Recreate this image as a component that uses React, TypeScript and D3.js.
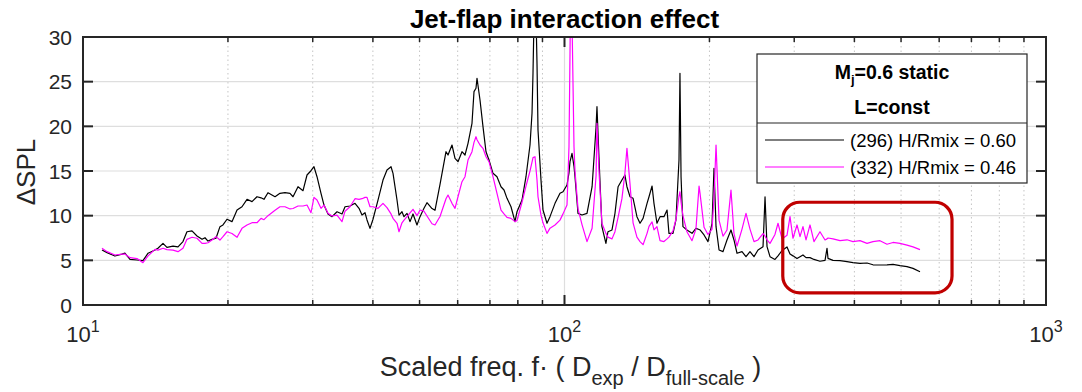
import React from 'react';
import * as d3 from 'd3';

// Scaled frequency (shared grid for both spectra)
const freq = [
  10.95, 11.22, 11.65, 12.05, 12.22, 12.52, 12.95, 13.32, 13.65, 14.11,
  14.31, 14.66, 14.94, 15.38, 15.75, 16.13, 16.44, 16.84, 17.25, 17.67,
  17.92, 18.18, 18.53, 18.89, 19.25, 19.53, 19.91, 20.39, 20.89, 21.39,
  21.91, 22.44, 22.98, 23.43, 23.76, 24.22, 25.05, 25.65, 26.27, 26.91,
  27.3, 27.96, 28.64, 29.19, 29.75, 30.18, 30.62, 31.21, 31.66, 32.27,
  32.9, 33.69, 34.51, 35.01, 35.85, 36.72, 37.43, 37.97, 38.52, 38.89,
  39.45, 40.02, 40.99, 41.98, 42.79, 43.62, 44.04, 44.89, 45.32, 45.97,
  46.42, 47.09, 47.77, 48.46, 49.39, 50.11, 51.07, 51.81, 53.07, 53.83,
  55.14, 56.74, 57.29, 58.39, 59.24, 60.09, 61.25, 62.14, 63.04, 64.25,
  64.87, 65.49, 65.81, 66.76, 67.72, 68.7, 69.69, 71.04, 72.41, 73.81,
  74.88, 75.96, 77.43, 78.92, 79.68, 81.61, 83.18, 84.79, 85.61, 86.02,
  86.84, 87.68, 88.1, 89.37, 90.23, 91.97, 93.3, 95.56, 97.87, 99.29,
  101.2, 102.17, 102.66, 103.16, 103.65, 104.65, 105.15, 106.67, 108.73, 111.36,
  114.1, 116.3, 116.8, 117.9, 119.6, 121.9, 123.1, 125.5, 127.3, 129.2,
  131.6, 133.5, 134.8, 136.8, 138.8, 141.4, 143.5, 145.6, 148.4, 149.8,
  152.0, 153.4, 155.6, 157.9, 160.9, 163.3, 164.8, 168.0, 170.4, 172.9,
  173.7, 174.6, 176.2, 179.6, 184.0, 187.5, 190.3, 191.2, 194.9, 198.6,
  202.5, 204.4, 206.4, 209.4, 213.4, 217.5, 221.7, 224.9, 228.2, 233.7,
  238.2, 242.8, 247.5, 252.3, 258.4, 260.9, 263.4, 267.2, 273.6, 277.6,
  283.0, 289.8, 294.0, 298.2, 304.0, 308.4, 312.8, 317.4, 323.5, 329.7,
  339.3, 347.6, 350.9, 352.6, 361.1, 373.4, 386.1, 397.3, 410.9, 424.9,
  437.2, 452.1, 467.5, 481.1, 497.5, 514.4, 529.4, 547.4,
];

// (296) H/Rmix = 0.60  -- black
const dsplH060 = [
  6.15, 5.86, 5.48, 5.7, 5.8, 5.1, 5.04, 4.96, 5.8, 6.15,
  6.35, 6.9, 6.45, 6.6, 6.5, 7.1, 8.2, 8.3, 7.72, 7.35,
  7.53, 7.16, 7.35, 7.47, 8.77, 8.96, 9.6, 9.33, 10.63, 11.0,
  11.83, 11.57, 12.12, 12.0, 11.83, 12.57, 12.12, 12.5, 12.57, 12.5,
  12.12, 13.24, 12.8, 14.55, 15.03, 15.48, 14.36, 12.5, 11.19, 10.19,
  9.89, 10.44, 10.19, 11.0, 11.08, 11.38, 10.82, 10.07, 10.33, 9.52,
  8.58, 9.6, 11.75, 13.99, 15.11, 15.48, 14.74, 11.75, 10.07, 10.44,
  9.89, 10.26, 9.33, 10.19, 8.96, 9.89, 10.82, 11.45, 10.8, 10.6,
  13.5, 17.16, 16.79, 17.91, 16.42, 16.04, 17.16, 16.79, 18.1, 20.34,
  23.88, 24.26, 25.38, 22.95, 19.96, 17.16, 16.23, 14.74, 14.36, 13.24,
  12.87, 11.94, 11.0, 9.33, 10.44, 11.75, 14.36, 17.91, 21.46, 26.0,
  38.0, 27.0, 19.59, 13.99, 10.63, 9.15, 9.89, 11.38, 12.5, 12.68,
  13.43, 14.8, 16.04, 16.5, 16.98, 15.5, 14.36, 10.26, 10.07, 10.26,
  13.24, 19.96, 22.2, 16.6, 8.77, 6.9, 8.2, 8.4, 10.26, 13.24,
  13.99, 14.55, 13.24, 12.12, 11.94, 9.89, 9.15, 9.7, 11.38, 12.12,
  13.32, 11.38, 9.15, 9.89, 9.89, 10.63, 8.02, 8.02, 9.52, 16.23,
  25.94, 14.36, 8.77, 8.4, 8.02, 8.58, 8.45, 8.4, 7.84, 7.09,
  9.15, 15.3, 8.77, 6.16, 5.97, 7.28, 8.4, 7.28, 5.79, 5.97,
  5.41, 5.97, 5.41, 6.16, 6.53, 12.12, 6.53, 5.41, 5.1, 5.5,
  6.1, 6.5, 5.7, 5.5, 5.2, 5.4, 5.6, 5.3, 5.3, 5.1,
  4.9, 5.0, 6.35, 5.22, 5.0, 4.96, 4.85, 4.74, 4.66, 4.7,
  4.5, 4.48, 4.5, 4.55, 4.4, 4.3, 4.1, 3.73,
];

// (332) H/Rmix = 0.46  -- magenta
const dsplH046 = [
  6.35, 5.97, 5.6, 5.7, 5.7, 5.3, 5.2, 4.74, 5.5, 6.23,
  6.15, 6.35, 6.2, 6.15, 5.97, 6.35, 7.35, 7.58, 7.47, 6.9,
  6.9, 6.97, 7.27, 7.65, 7.27, 7.65, 8.2, 8.0, 7.58, 8.58,
  8.96, 9.21, 9.21, 9.7, 9.55, 10.0, 10.6, 11.0, 11.0, 10.75,
  10.8, 11.08, 11.08, 11.19, 10.33, 12.05, 11.75, 10.82, 11.19, 10.26,
  9.96, 10.07, 9.33, 10.5, 11.0, 11.9, 11.83, 11.9, 12.05, 12.05,
  11.0, 11.0, 10.82, 11.38, 10.9, 10.2, 9.7, 9.15, 8.2, 9.2,
  9.5, 9.89, 10.3, 10.71, 10.0, 10.63, 10.5, 9.96, 9.1, 8.96,
  9.9, 11.9, 12.31, 11.38, 10.82, 12.12, 13.8, 14.36, 16.23, 17.16,
  18.2, 18.84, 18.5, 17.91, 17.54, 16.6, 16.04, 14.36, 12.5, 10.63,
  10.2, 9.8, 9.7, 9.33, 9.45, 11.5, 13.3, 15.0, 16.0, 16.5,
  16.6, 14.0, 12.12, 10.07, 9.2, 8.02, 8.6, 8.96, 9.5, 10.2,
  11.2, 17.72, 28.0, 40.0, 32.0, 17.72, 15.0, 10.8, 9.0, 7.09,
  8.6, 14.5, 20.34, 15.11, 9.15, 8.02, 7.6, 7.4, 8.2, 9.8,
  11.9, 14.74, 17.54, 13.5, 9.2, 7.6, 7.1, 6.75, 8.02, 8.8,
  9.3, 8.4, 8.77, 7.2, 7.1, 7.4, 7.6, 8.3, 9.6, 12.2,
  12.68, 11.5, 10.0, 8.2, 7.2, 8.5, 13.32, 12.5, 8.7, 7.9,
  8.5, 12.0, 17.91, 9.5, 7.7, 8.4, 12.87, 8.0, 6.6, 8.5,
  10.26, 8.5, 7.1, 7.28, 8.0, 7.7, 7.3, 6.9, 7.9, 9.15,
  7.4, 7.8, 9.89, 7.47, 8.96, 7.65, 8.77, 7.28, 8.96, 7.09,
  8.2, 7.28, 7.4, 7.5, 7.4, 7.2, 7.3, 7.1, 7.2, 6.9,
  7.1, 7.2, 6.8, 7.0, 6.9, 6.7, 6.5, 6.2,
];

const seriesLabels = ['(296) H/Rmix = 0.60', '(332) H/Rmix = 0.46'];
const seriesColors = ['#000000', '#ff00ff'];
const yTicks = [0, 5, 10, 15, 20, 25, 30];
const xMajorTicks = [10, 100, 1000];
const xMajorExp = ['1', '2', '3'];
const xMinorTicks = [20, 30, 40, 50, 60, 70, 80, 90, 200, 300, 400, 500, 600, 700, 800, 900];
const titleText = 'Jet-flap interaction effect';
// highlighted region (data units): freq range and dSPL range
const highlightFreq = [284, 638];
const highlightSpl = [1.35, 11.5];

const FONT = "'Liberation Sans', Arial, Helvetica, sans-serif";
const AX = '#262626';

export default function App() {
  const W = 1082, H = 392;
  const L = 83, R = 1046, T = 37, B = 305;
  const x = d3.scaleLog().domain([10, 1000]).range([L, R]);
  const y = d3.scaleLinear().domain([0, 30]).range([B, T]);
  const series = [dsplH060, dsplH046];
  const line = (vals: number[]) =>
    d3.line<number>().x((_, i) => x(freq[i])).y((d) => y(d))(vals) || '';

  const lg = { x: 757, y: 54, w: 270, h: 129, div: 123 };

  return (
    <svg width={W} height={H} style={{ position: 'absolute', left: 0, top: 0, background: '#fff' }}
      fontFamily={FONT}>
      <defs>
        <clipPath id="plotclip">
          <rect x={L} y={T} width={R - L} height={B - T} />
        </clipPath>
      </defs>
      <rect x={0} y={0} width={W} height={H} fill="#fff" />
      {/* grid */}
      {xMinorTicks.map((t) => (
        <line key={'mg' + t} x1={x(t)} x2={x(t)} y1={T} y2={B} stroke="#c4c4c4" strokeWidth={1}
          strokeDasharray="1.5,3" />
      ))}
      {yTicks.slice(1, -1).map((t) => (
        <line key={'yg' + t} x1={L} x2={R} y1={y(t)} y2={y(t)} stroke="#dedede" strokeWidth={1.2} />
      ))}
      {xMajorTicks.slice(1, -1).map((t) => (
        <line key={'xg' + t} x1={x(t)} x2={x(t)} y1={T} y2={B} stroke="#dedede" strokeWidth={1.2} />
      ))}
      {/* data */}
      <g clipPath="url(#plotclip)">
        {series.map((s, i) => (
          <path key={'s' + i} d={line(s)} fill="none" stroke={seriesColors[i]} strokeWidth={1.2}
            strokeLinejoin="round" />
        ))}
      </g>
      {/* highlight box */}
      <rect x={x(highlightFreq[0])} y={y(highlightSpl[1])}
        width={x(highlightFreq[1]) - x(highlightFreq[0])}
        height={y(highlightSpl[0]) - y(highlightSpl[1])}
        rx={17} ry={17} fill="none" stroke="#c00000" strokeWidth={3.2} />
      {/* axes box */}
      <rect x={L} y={T} width={R - L} height={B - T} fill="none" stroke={AX} strokeWidth={2} />
      {/* y ticks */}
      {yTicks.map((t) => (
        <g key={'yt' + t}>
          <line x1={L} x2={L + 10} y1={y(t)} y2={y(t)} stroke={AX} strokeWidth={2} />
          <line x1={R} x2={R - 10} y1={y(t)} y2={y(t)} stroke={AX} strokeWidth={2} />
          <text x={72} y={y(t)} dy="0.36em" textAnchor="end" fontSize={21} fill={AX}>{t}</text>
        </g>
      ))}
      {/* x ticks */}
      {xMajorTicks.map((t, i) => (
        <g key={'xt' + t}>
          <line x1={x(t)} x2={x(t)} y1={B} y2={B - 10} stroke={AX} strokeWidth={2} />
          <line x1={x(t)} x2={x(t)} y1={T} y2={T + 10} stroke={AX} strokeWidth={2} />
          <text x={x(t)} y={342} textAnchor="middle" fontSize={22} fill={AX}>
            10<tspan dy={-10} fontSize={16}>{xMajorExp[i]}</tspan>
          </text>
        </g>
      ))}
      {xMinorTicks.map((t) => (
        <g key={'xm' + t}>
          <line x1={x(t)} x2={x(t)} y1={B} y2={B - 5} stroke={AX} strokeWidth={1.5} />
          <line x1={x(t)} x2={x(t)} y1={T} y2={T + 5} stroke={AX} strokeWidth={1.5} />
        </g>
      ))}
      {/* labels */}
      <text x={(L + R) / 2} y={28} textAnchor="middle" fontSize={26} fontWeight="bold" fill="#000">
        {titleText}
      </text>
      <text transform="translate(35,172) rotate(-90)" textAnchor="middle" fontSize={26} fill={AX}>
        ΔSPL
      </text>
      <text x={(L + R) / 2 + 6} y={376} textAnchor="middle" fontSize={27} fill={AX}>
        Scaled freq. f· ( D<tspan dy={9} fontSize={20}>exp</tspan><tspan dy={-9}> / D</tspan>
        <tspan dy={9} fontSize={20}>full-scale</tspan><tspan dy={-9}> )</tspan>
      </text>
      {/* legend */}
      <rect x={lg.x} y={lg.y} width={lg.w} height={lg.h} fill="#fff" stroke={AX} strokeWidth={1.2} />
      <line x1={lg.x} x2={lg.x + lg.w} y1={lg.div} y2={lg.div} stroke={AX} strokeWidth={1.2} />
      <text x={lg.x + lg.w / 2} y={79} textAnchor="middle" fontSize={19.5} fontWeight="bold" fill="#000">
        M<tspan dy={5} fontSize={13}>j</tspan><tspan dy={-5}>=0.6 static</tspan>
      </text>
      <text x={lg.x + lg.w / 2} y={114} textAnchor="middle" fontSize={19.5} fontWeight="bold" fill="#000">
        L=const
      </text>
      {seriesLabels.map((lab, i) => (
        <g key={'lg' + i}>
          <line x1={765} x2={844} y1={140 + i * 27} y2={140 + i * 27} stroke={seriesColors[i]} strokeWidth={1.2} />
          <text x={850} y={140 + i * 27} dy="0.36em" fontSize={18.5} fill="#000">{lab}</text>
        </g>
      ))}
    </svg>
  );
}
